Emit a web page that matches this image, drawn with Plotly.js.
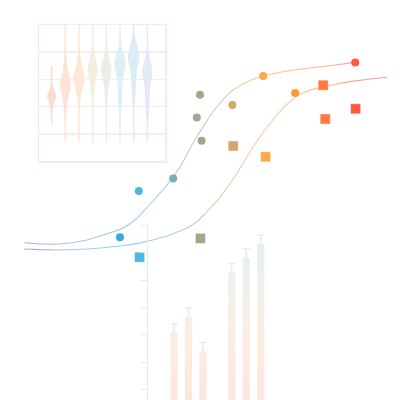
<!DOCTYPE html>
<html><head><meta charset="utf-8">
<script src="https://cdn.plot.ly/plotly-3.0.1.min.js"></script>
<style>html,body{margin:0;padding:0;background:#fff}#chart{width:400px;height:400px}</style>
</head><body><div id="chart"></div>
<script>
// ---- Main dose-response data (log concentration vs response) ----
const curveAX = [0.62,1.0,1.38,1.75,2.18,2.58,3.0,3.25,3.42,3.62,3.82,4.08,4.32,4.5,4.68,4.85,5.0,5.2,5.42,5.62,5.82,6.05,6.25,6.58,7.08,7.5,7.92,8.38,8.88];
const curveAY = [39.3,39.0,38.95,39.25,40.0,41.25,42.6,44.0,45.4,47.5,49.75,52.6,55.6,58.25,61.5,64.75,67.1,70.25,73.25,75.6,77.5,78.9,79.9,81.0,82.1,82.7,83.2,83.75,84.4];
const curveBX = [0.6,1.0,1.38,1.75,2.18,2.58,3.0,3.42,3.82,4.25,4.68,4.92,5.12,5.3,5.45,5.65,5.88,6.08,6.28,6.48,6.7,6.9,7.12,7.3,7.45,7.75,8.08,8.42,8.75,9.2,9.68];
const curveBY = [37.75,37.6,37.5,37.55,37.75,38.05,38.5,39.1,40.0,41.25,43.0,44.5,46.5,48.5,50.0,52.75,56.0,59.25,62.5,65.5,68.5,71.0,73.4,75.1,76.25,77.5,78.3,79.0,79.6,80.2,80.7];
const circleX = [3.0,3.47,4.33,4.92,5.0,5.04,5.81,6.58,7.38,8.88];
const circleY = [40.7,52.25,55.4,70.6,76.3,64.8,73.75,81.0,76.75,84.4];
const squareX = [3.49,5.01,5.83,6.64,8.08,8.13,8.89];
const squareY = [35.7,40.4,63.5,60.8,78.7,70.25,72.8];

// ---- Inset violin data ----
const violinPos = [1,2,3,4,5,6,7,8];
const violin1 = [2.05,2.2,2.28,2.33,2.37,2.4,2.45,2.52,2.65];
const violin2 = [2.0,2.3,2.5,2.6,2.7,2.75,2.8,2.85,2.9,3.0,3.1,3.3,3.6];
const violin3 = [2.4,2.65,2.8,2.9,2.98,3.03,3.08,3.15,3.25,3.4,3.65];
const violin4 = [2.6,2.9,3.05,3.2,3.28,3.33,3.38,3.45,3.55,3.7,3.85];
const violin5 = [2.5,2.85,3.0,3.15,3.25,3.32,3.38,3.45,3.55,3.7,3.9];
const violin6 = [2.1,2.5,2.8,3.05,3.25,3.4,3.5,3.56,3.62,3.72,3.85,4.0];
const violin7 = [2.4,2.8,3.1,3.35,3.55,3.68,3.76,3.82,3.9,4.0,4.15,4.35];
const violin8 = [1.8,2.2,2.5,2.75,2.95,3.1,3.2,3.26,3.32,3.42,3.55,3.75];
const violinMin = [1.35,0.7,0.7,0.7,0.7,0.7,0.7,0.7];
const violinMax = [3.5,5.6,5.6,5.6,5.6,5.6,5.6,5.6];
const violinTicks = [1,2,3,4];

// ---- Inset bar data ----
const barX = [1,2,3,5,6,7];
const barVal = [21.1,26.5,14.1,42.7,48.1,53.1];
const barErr = [3.0,3.3,3.1,3.2,3.3,3.2];
const barTicks = [0,10,20,30,40,50,60];

// ---- styles ----
const cmin = 0.6, cmax = 9.7;
const scale = [[0,'#7a66b0'],[0.16,'#6aa8dc'],[0.264,'#3aa8dc'],[0.315,'#48b8e0'],[0.41,'#78b0b0'],[0.484,'#9eaa8a'],[0.574,'#d4a86a'],[0.659,'#fbaa48'],[0.745,'#ff9840'],[0.824,'#ff7a40'],[0.912,'#ff5a3c'],[1,'#ff5a3c']];
function h2r(h){return [parseInt(h.slice(1,3),16),parseInt(h.slice(3,5),16),parseInt(h.slice(5,7),16)];}
function colorAt(x, a){
  let t = Math.max(0, Math.min(1, (x-cmin)/(cmax-cmin)));
  let i = 0; while (i < scale.length-2 && t > scale[i+1][0]) i++;
  const f = (t-scale[i][0])/(scale[i+1][0]-scale[i][0]);
  const c0 = h2r(scale[i][1]), c1 = h2r(scale[i+1][1]);
  const c = c0.map((v,k)=> v + (c1[k]-v)*f).map(v=> Math.round(v*a + 255*(1-a)));
  return 'rgb('+c.join(',')+')';
}
function segTraces(xs, ys){
  const out = [];
  for (let i=0;i<xs.length-1;i++){
    out.push({type:'scatter',mode:'lines',x:[xs[i],xs[i+1]],y:[ys[i],ys[i+1]],
      line:{color:colorAt((xs[i]+xs[i+1])/2,0.58),width:1.1},hoverinfo:'skip',showlegend:false});
  }
  return out;
}

const traces = [];
traces.push(...segTraces(curveAX, curveAY));
traces.push(...segTraces(curveBX, curveBY));
traces.push({type:'scatter',mode:'markers',x:circleX,y:circleY,name:'circles',
  marker:{symbol:'circle',size:8,color:circleX,colorscale:scale,cmin:cmin,cmax:cmax,line:{width:0}}});
traces.push({type:'scatter',mode:'markers',x:squareX,y:squareY,name:'squares',
  marker:{symbol:'square',size:10,color:squareX,colorscale:scale,cmin:cmin,cmax:cmax,line:{width:0.6,color:'rgba(255,255,255,0.6)'}}});

const violinData = [violin1,violin2,violin3,violin4,violin5,violin6,violin7,violin8];
const violinColors = ['#fadbd3','#fde3d6','#fde8d6','#f3eedf','#eceee6','#e0eff6','#dcedf7','#e3e9f5'];
const violinWidths = [0.53,0.68,0.73,0.64,0.64,0.68,0.73,0.64];
const violinBw = [0.12,0.25,0.22,0.2,0.2,0.22,0.22,0.22];
violinData.forEach((d,i)=>{
  traces.push({type:'violin',xaxis:'x2',yaxis:'y2',x0:violinPos[i],y:d,width:violinWidths[i],
    scalemode:'width',spanmode:'manual',span:[violinMin[i],violinMax[i]],bandwidth:violinBw[i],points:false,
    box:{visible:false},meanline:{visible:false},
    fillcolor:violinColors[i],line:{color:violinColors[i],width:1.5},hoverinfo:'skip',showlegend:false});
});

const yr3 = [-3.64, 60];
traces.push({type:'scatter',mode:'markers',xaxis:'x3',yaxis:'y3',x:barX.slice(0,3),y:barVal.slice(0,3),
  marker:{opacity:0,size:1},error_y:{type:'data',array:barErr.slice(0,3),color:'#eee5dc',thickness:1.3,width:3.5},showlegend:false});
traces.push({type:'scatter',mode:'markers',xaxis:'x3',yaxis:'y3',x:barX.slice(3),y:barVal.slice(3),
  marker:{opacity:0,size:1},error_y:{type:'data',array:barErr.slice(3),color:'#e2eef4',thickness:1.3,width:3.5},showlegend:false});
const hw = 0.25, px = [], py = [];
barX.forEach((c,i)=>{
  px.push(c-hw,c-hw,c+hw,c+hw,c-hw,null);
  py.push(yr3[0],barVal[i],barVal[i],yr3[0],yr3[0],null);
});
traces.push({type:'scatter',mode:'lines',xaxis:'x3',yaxis:'y3',x:px,y:py,fill:'toself',line:{width:0},
  fillgradient:{type:'vertical',start:yr3[0],stop:yr3[1],colorscale:[[0,'#fde6df'],[0.35,'#fcede2'],[0.6,'#f0f1ea'],[1,'#dfeff8']]},
  hoverinfo:'skip',showlegend:false});

const layout = {
  width:400,height:400,margin:{l:0,r:0,t:0,b:0},
  paper_bgcolor:'#ffffff',plot_bgcolor:'rgba(0,0,0,0)',showlegend:false,violinmode:'overlay',
  xaxis:{domain:[0,1],range:[0,10],visible:false},
  yaxis:{domain:[0,1],range:[0,100],visible:false},
  xaxis2:{domain:[0.098,0.4125],range:[0.09,9.29],anchor:'y2',showline:true,mirror:true,linecolor:'#f6e9ee',linewidth:1.5,
    showgrid:false,zeroline:false,showticklabels:false,ticks:''},
  yaxis2:{domain:[0.5975,0.9375],range:[0,5],anchor:'x2',showline:true,mirror:true,linecolor:'#f3eaf0',linewidth:1.5,
    showgrid:true,gridcolor:'#f3edf2',gridwidth:1.5,tickvals:violinTicks,showticklabels:false,zeroline:false,ticks:''},
  xaxis3:{domain:[0.3708,0.688],range:[-0.78,8],anchor:'y3',visible:false},
  yaxis3:{domain:[0,0.4375],range:yr3,anchor:'x3',showline:true,linecolor:'#ebe7ef',linewidth:1,ticks:'outside',ticklen:6,
    tickcolor:'#ebe7ef',tickvals:barTicks,showticklabels:false,showgrid:false,zeroline:false}
};
Plotly.newPlot('chart', traces, layout, {displayModeBar:false,staticPlot:true});
</script></body></html>
